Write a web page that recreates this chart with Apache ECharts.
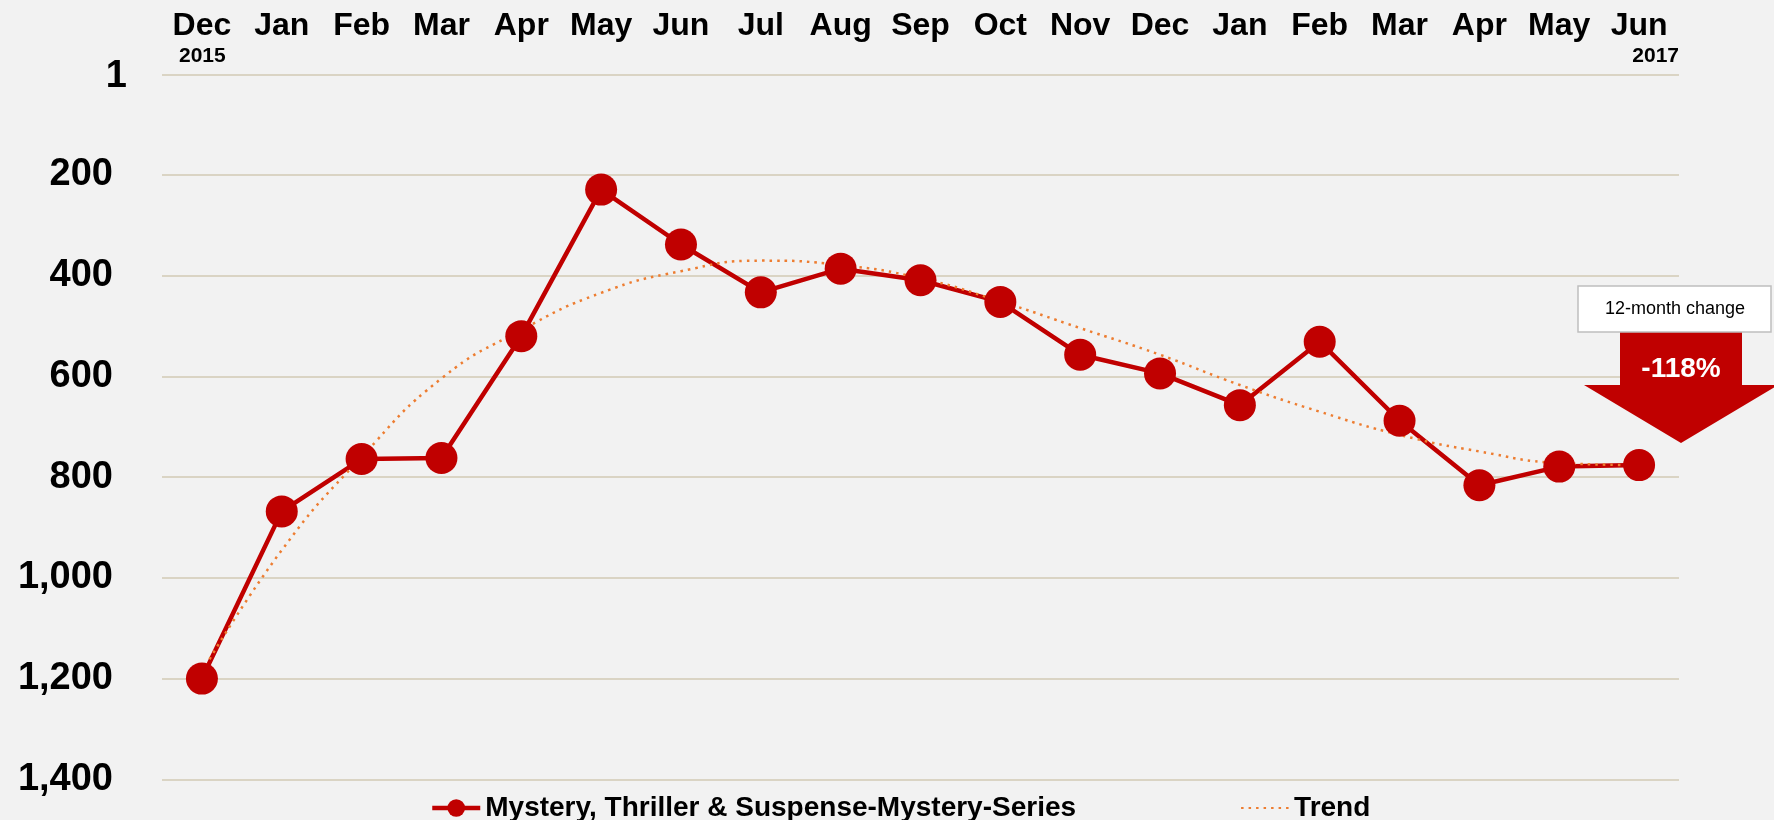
<!DOCTYPE html>
<html>
<head>
<meta charset="utf-8">
<script src="https://cdn.jsdelivr.net/npm/echarts@6/dist/echarts.min.js"></script>
<style>
  html, body { margin: 0; padding: 0; background: #F2F2F2; }
  #chart { width: 1774px; height: 820px; }
</style>
</head>
<body>
<div id="chart"></div>
<script>
var months = ["Dec", "Jan", "Feb", "Mar", "Apr", "May", "Jun", "Jul", "Aug", "Sep",
              "Oct", "Nov", "Dec", "Jan", "Feb", "Mar", "Apr", "May", "Jun"];
var rankValues = [1200, 868, 764, 762, 520, 229, 338, 433, 386, 409,
                  452, 557, 594, 657, 531, 688, 816, 779, 776];
var trendValues = [1187, 945, 760, 604, 508, 434, 391, 370, 379, 405,
                   451, 504, 557, 617, 670, 716, 749, 772, 776];
var yTicks = [0, 200, 400, 600, 800, 1000, 1200, 1400];
var topTickLabel = "1";
var seriesName = "Mystery, Thriller & Suspense-Mystery-Series";
var trendName = "Trend";
var changeLabel = "12-month change";
var changeValue = "-118%";
var firstYear = "2015";
var lastYear = "2017";

var chart = echarts.init(document.getElementById("chart"));

var option = {
    backgroundColor: "#F2F2F2",
    animation: false,
    grid: {
        left: 162,
        right: 95,
        top: 74.3,
        bottom: 40.7
    },
    legend: {
        left: 425,
        top: 789,
        itemWidth: 48,
        itemHeight: 22,
        itemGap: 164,
        textStyle: {
            fontFamily: "Liberation Sans, Arial, sans-serif",
            fontWeight: "bold",
            fontSize: 28,
            color: "#000"
        },
        data: [{
            name: seriesName,
            lineStyle: { width: 4.5 }
        }, {
            name: trendName,
            itemStyle: { opacity: 0 }
        }]
    },
    xAxis: {
        type: "category",
        position: "top",
        boundaryGap: true,
        data: months,
        axisLine: { show: false },
        axisTick: { show: false },
        splitLine: { show: false },
        axisLabel: {
            interval: 0,
            margin: 32,
            fontFamily: "Liberation Sans, Arial, sans-serif",
            fontWeight: "bold",
            fontSize: 32,
            color: "#000"
        }
    },
    yAxis: {
        type: "value",
        inverse: true,
        min: yTicks[0],
        max: yTicks[yTicks.length - 1],
        interval: 200,
        axisLine: { show: false },
        axisTick: { show: false },
        axisLabel: {
            margin: 49,
            fontFamily: "Liberation Sans, Arial, sans-serif",
            fontWeight: "bold",
            fontSize: 38,
            color: "#000",
            formatter: function (v) {
                // the top label sits further right, drawn separately below
                return v === 0 ? "" : v.toLocaleString("en-US");
            }
        },
        splitLine: {
            lineStyle: { color: "#DAD4C4", width: 2 }
        }
    },
    series: [{
        name: seriesName,
        type: "line",
        data: rankValues,
        symbol: "circle",
        symbolSize: 32,
        itemStyle: { color: "#C00000" },
        lineStyle: { color: "#C00000", width: 4.5 }
    }, {
        name: trendName,
        type: "line",
        data: trendValues,
        smooth: true,
        symbol: "none",
        itemStyle: { color: "#ED7D31" },
        lineStyle: { color: "#ED7D31", width: 2.5, type: [2.5, 5] }
    }],
    graphic: [{
        type: "text",
        x: 127,
        y: 77,
        style: {
            text: topTickLabel,
            font: "bold 38px 'Liberation Sans', Arial, sans-serif",
            fill: "#000",
            align: "right",
            verticalAlign: "middle"
        }
    }, {
        type: "text",
        left: 179,
        top: 46,
        style: {
            text: firstYear,
            font: "bold 21px 'Liberation Sans', Arial, sans-serif",
            fill: "#000"
        }
    }, {
        type: "text",
        right: 95,
        top: 46,
        style: {
            text: lastYear,
            font: "bold 21px 'Liberation Sans', Arial, sans-serif",
            fill: "#000"
        }
    }, {
        type: "polygon",
        z: 10,
        shape: {
            points: [[1620, 331], [1742, 331], [1742, 385], [1778, 385],
                     [1681, 443], [1584, 385], [1620, 385]]
        },
        style: { fill: "#C00000" }
    }, {
        type: "text",
        z: 11,
        x: 1681,
        y: 369,
        style: {
            text: changeValue,
            font: "bold 28px 'Liberation Sans', Arial, sans-serif",
            fill: "#fff",
            align: "center",
            verticalAlign: "middle"
        }
    }, {
        type: "rect",
        z: 12,
        shape: { x: 1578, y: 286, width: 193, height: 46 },
        style: { fill: "#fff", stroke: "#BFBFBF", lineWidth: 1.5 }
    }, {
        type: "text",
        z: 13,
        x: 1675,
        y: 309,
        style: {
            text: changeLabel,
            font: "18px 'Liberation Sans', Arial, sans-serif",
            fill: "#000",
            align: "center",
            verticalAlign: "middle"
        }
    }]
};

chart.setOption(option);
window.addEventListener("resize", function () {
    chart.resize();
});
</script>
</body>
</html>
